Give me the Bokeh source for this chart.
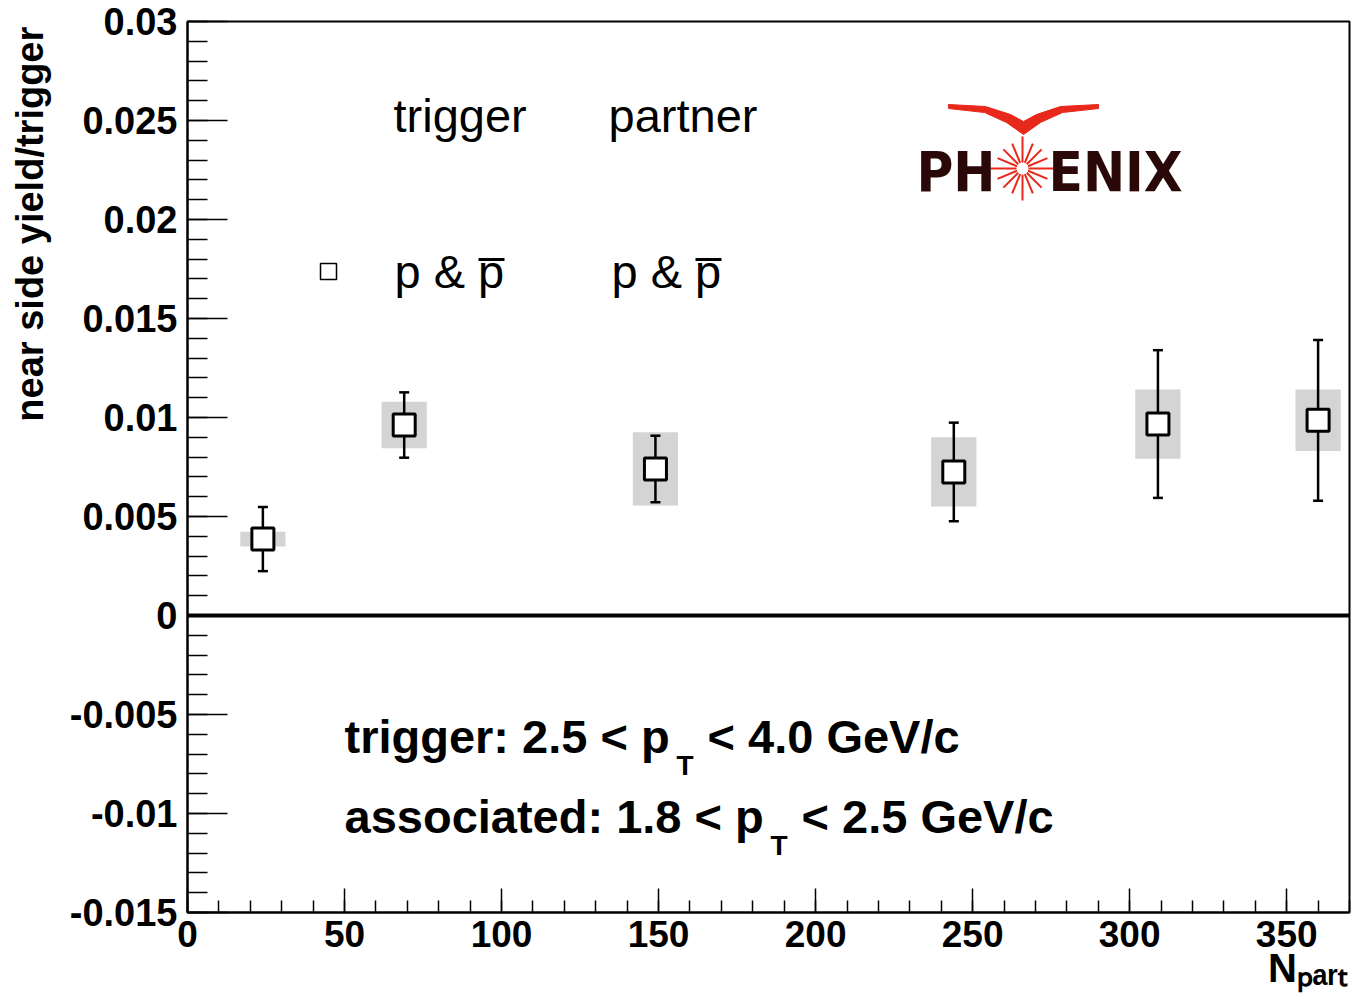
import numpy as np
from bokeh.plotting import figure
from bokeh.models import ColumnDataSource, FixedTicker, Label, Span
from bokeh.embed import file_html
from bokeh.resources import INLINE

# Near-side per-trigger yield vs. number of participants (p & pbar triggers / partners)
npart = [24, 69, 149, 244, 309, 360]
yield_per_trigger = [0.00386, 0.00962, 0.00740, 0.00725, 0.00967, 0.00986]
stat_err = [0.00162, 0.00165, 0.00168, 0.00249, 0.00373, 0.00406]
sys_err = [0.00037, 0.00117, 0.00185, 0.00175, 0.00175, 0.00155]
sys_box_half_width = 7.2

x_ticks = [0, 50, 100, 150, 200, 250, 300, 350]
x_tick_labels = ["0", "50", "100", "150", "200", "250", "300", "350"]
y_ticks = [-0.015, -0.01, -0.005, 0.0, 0.005, 0.01, 0.015, 0.02, 0.025, 0.03]
y_tick_labels = ["-0.015", "-0.01", "-0.005", "0", "0.005", "0.01", "0.015", "0.02", "0.025", "0.03"]

x_title = "N\u209a\u2090\u1d63\u209c"
y_title = "near side yield/trigger"

X_MIN, X_MAX = 0, 370
Y_MIN, Y_MAX = -0.015, 0.03

W, H = 1353, 1000
LEFT, RIGHT, TOP, BOTTOM = 187, 4, 21, 88
FRAME_W = W - LEFT - RIGHT
FRAME_H = H - TOP - BOTTOM

# Bokeh's "alphabetic" anchor sits a little above the glyph baseline
BASELINE_SHIFT = 0.37
# axis titles are centred by Bokeh; leading no-break spaces push them to the far end
NBSP = "\u00a0"


def sx(px):
    """canvas pixel column -> data x"""
    return X_MIN + (px - LEFT) * (X_MAX - X_MIN) / FRAME_W


def sy(py):
    """canvas pixel row -> data y"""
    return Y_MAX - (py - TOP) * (Y_MAX - Y_MIN) / FRAME_H


p = figure(width=W, height=H, x_range=(X_MIN, X_MAX), y_range=(Y_MIN, Y_MAX),
           output_backend="svg", toolbar_location=None,
           min_border_left=LEFT, min_border_right=RIGHT,
           min_border_top=TOP, min_border_bottom=BOTTOM)
p.grid.visible = False
p.background_fill_color = "white"
p.border_fill_color = "white"
p.outline_line_color = "black"
p.outline_line_width = 2

FONT = "Liberation Sans"

# axes: ROOT-style inward ticks
xa = p.xaxis[0]
xa.ticker = FixedTicker(ticks=x_ticks, minor_ticks=list(np.arange(0, 371, 10)))
xa.major_label_overrides = {t: s for t, s in zip(x_ticks, x_tick_labels)}
xa.major_tick_in, xa.major_tick_out = 24, 0
xa.minor_tick_in, xa.minor_tick_out = 12, 0
xa.axis_line_width = 2
xa.major_tick_line_width = 1.5
xa.minor_tick_line_width = 1.5
xa.major_label_text_font = FONT
xa.major_label_text_font_style = "bold"
xa.major_label_text_font_size = "37px"
xa.major_label_text_color = "black"
xa.major_label_standoff = 8
xa.axis_label = NBSP * 97 + x_title
xa.axis_label_standoff = -4
xa.axis_label_text_font = FONT
xa.axis_label_text_font_style = "bold"
xa.axis_label_text_font_size = "40px"
xa.axis_label_text_color = "black"

ya = p.yaxis[0]
ya.ticker = FixedTicker(ticks=y_ticks,
                        minor_ticks=[round(v, 4) for v in np.arange(-0.015, 0.0305, 0.001)])
ya.major_label_overrides = {t: s for t, s in zip(y_ticks, y_tick_labels)}
ya.major_tick_in, ya.major_tick_out = 40, 0
ya.minor_tick_in, ya.minor_tick_out = 20, 0
ya.axis_line_width = 2
ya.major_tick_line_width = 1.5
ya.minor_tick_line_width = 1.5
ya.major_label_text_font = FONT
ya.major_label_text_font_style = "bold"
ya.major_label_text_font_size = "38px"
ya.major_label_text_color = "black"
ya.major_label_standoff = 10
ya.axis_label = NBSP * 46 + y_title
ya.axis_label_standoff = 16
ya.axis_label_text_font = FONT
ya.axis_label_text_font_style = "bold"
ya.axis_label_text_font_size = "38px"
ya.axis_label_text_color = "black"

# zero line
p.add_layout(Span(location=0, dimension="width", line_color="black", line_width=4))

# data
x = np.array(npart, dtype=float)
y = np.array(yield_per_trigger)
se = np.array(stat_err)
sye = np.array(sys_err)
src = ColumnDataSource(dict(
    x=x, y=y,
    lo=y - se, hi=y + se,
    sys_lo=y - sye, sys_hi=y + sye,
    left=x - sys_box_half_width, right=x + sys_box_half_width,
))

p.quad(left="left", right="right", bottom="sys_lo", top="sys_hi", source=src,
       fill_color="#d4d4d4", line_color=None)
p.segment(x0="x", y0="lo", x1="x", y1="hi", source=src, line_color="black", line_width=2.5)
p.scatter(x="x", y="hi", source=src, marker="dash", size=10, line_color="black", line_width=2.5)
p.scatter(x="x", y="lo", source=src, marker="dash", size=10, line_color="black", line_width=2.5)
p.scatter(x="x", y="y", source=src, marker="square", size=22,
          fill_color="white", line_color="black", line_width=3)


def label(text, px, py, size, style="normal", font=FONT, color="black", align="left"):
    """place text with its baseline at canvas row py"""
    p.add_layout(Label(x=sx(px), y=sy(py - BASELINE_SHIFT * size), text=text,
                       text_font=font, text_font_size=f"{size}px",
                       text_font_style=style, text_color=color, text_align=align,
                       text_baseline="alphabetic"))


# legend block
label("trigger", 393, 132, 47)
label("partner", 608, 132, 47)
p.scatter(x=[sx(328)], y=[sy(271)], marker="square", size=16,
          fill_color="white", line_color="black", line_width=1.5)
label("p & p", 394, 288, 47)
label("p & p", 611, 288, 47)
for x0 in (394, 611):
    p.segment(x0=[sx(x0 + 84)], y0=[sy(259)], x1=[sx(x0 + 110)], y1=[sy(259)],
              line_color="black", line_width=3)

# kinematic selection
label("trigger: 2.5 < p", 344, 753, 47, style="bold")
label("T", 676, 775, 28, style="bold")
label("< 4.0 GeV/c", 707, 753, 47, style="bold")
label("associated: 1.8 < p", 344, 833, 47, style="bold")
label("T", 770, 855, 28, style="bold")
label("< 2.5 GeV/c", 801, 833, 47, style="bold")

# PHENIX logo
RED = "#e8281a"
wing_px = [(948, 104), (985, 106), (1010, 114), (1023, 121), (1036, 114), (1060, 106),
           (1098, 104), (1098, 108), (1062, 112), (1040, 122), (1023, 134), (1006, 122),
           (984, 112), (948, 108)]
p.patch(x=[sx(a) for a, _ in wing_px], y=[sy(b) for _, b in wing_px],
        fill_color=RED, line_color=RED, line_width=1)
cx, cy = 1022, 168
angles = np.arange(16) * np.pi / 8
r_out = np.where(np.arange(16) % 4 == 0, 32, 27)
r_in = 6
p.segment(x0=[sx(cx + r_in * np.cos(a)) for a in angles],
          y0=[sy(cy - r_in * np.sin(a)) for a in angles],
          x1=[sx(cx + r * np.cos(a)) for a, r in zip(angles, r_out)],
          y1=[sy(cy - r * np.sin(a)) for a, r in zip(angles, r_out)],
          line_color=RED, line_width=2)
LOGO_FONT = "Liberation Sans Narrow, DejaVu Sans Condensed, Roboto Condensed, Liberation Sans"
label("PH", 995, 192, 56, style="bold", font=LOGO_FONT, color="#2a0808", align="right")
label("ENIX", 1048, 192, 56, style="bold", font=LOGO_FONT, color="#2a0808")

open("out.html", "w").write(file_html(p, INLINE))
